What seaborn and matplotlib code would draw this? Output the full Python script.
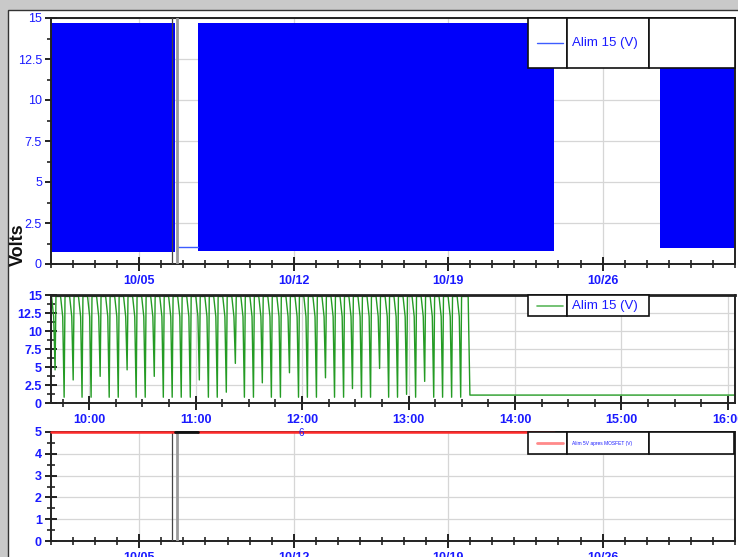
import pandas as pd
import matplotlib
matplotlib.use("Agg")
import matplotlib.pyplot as plt
import matplotlib.dates as mdates
from matplotlib.patches import Rectangle
from matplotlib.lines import Line2D
import seaborn as sns

# Panneau 1 : Alim 15 (V) sur le mois (blocs d'oscillation rapide)
month_start = "2012-10-01 00:00"
month_end = "2012-11-01 00:00"
blue_start = ["2012-10-01 00:00", "2012-10-07 16:00", "2012-10-28 14:10"]
blue_end = ["2012-10-06 15:20", "2012-10-23 19:40", "2012-11-01 00:00"]
blue_low = [0.75, 0.8, 1.0]
blue_high = [14.7, 14.7, 11.95]
idle_dates = ["2012-10-06 17:00", "2012-10-07 16:00"]
idle_values = [1.05, 1.05]
cursor_dates = ["2012-10-06 12:00", "2012-10-06 17:00"]

# Panneau 2 : une journee, creux du signal (minutes apres 09:00)
day = "2012-10-05 09:00"
dip_minutes = [40.8, 45.9, 51.0, 56.0, 61.1, 66.2, 71.3, 76.4, 81.4, 86.5,
               91.6, 96.7, 101.8, 106.8, 111.9, 117.0, 122.1, 127.2, 132.2, 137.3,
               142.4, 147.5, 152.6, 157.6, 162.7, 167.8, 172.9, 178.0, 183.0, 188.1,
               193.2, 198.3, 203.4, 208.4, 213.5, 218.6, 223.7, 228.8, 233.8, 238.9,
               244.0, 249.1, 254.2, 259.2, 264.3, 269.4]
dip_min = [4.6, 0.8, 3.2, 0.8, 0.8, 3.7, 0.8, 0.8, 4.6, 0.8,
           0.8, 3.7, 0.8, 0.8, 0.8, 0.8, 3.2, 0.8, 0.8, 1.5,
           5.5, 0.8, 0.8, 2.8, 0.8, 0.8, 4.2, 0.8, 0.8, 0.8,
           3.5, 0.8, 0.8, 2.0, 0.8, 0.8, 4.8, 0.8, 0.8, 1.2,
           0.8, 3.0, 0.8, 0.8, 0.8, 0.8]
wave_top = 14.8
stop_minute = 274.6
rest_level = 1.1
day_xmin = 38.5
day_xmax = 424.0

# Panneau 3 : Alim 5V apres MOSFET
red_start = ["2012-10-01 00:00", "2012-10-07 16:00"]
red_end = ["2012-10-06 15:20", "2012-10-23 19:40"]
red_level = 5.0
off_dates = ["2012-10-06 15:20", "2012-10-07 16:00"]
off_values = [5.0, 5.0]

BLUE_TXT = "#1a1aff"
GRID = "#d6d6d6"

sns.set_style("white")
plt.rcParams["font.family"] = ["Liberation Sans", "DejaVu Sans"]

fig = plt.figure(figsize=(7.38, 5.57), dpi=100)
fig.patch.set_facecolor("#c9c9c9")
fig.add_artist(Rectangle((8 / 738, -0.01), 1.0, 1 - 10 / 557 + 0.01, transform=fig.transFigure,
                         facecolor="white", edgecolor="#333333", lw=1.0, zorder=-1))

AX_W = 684.0
ax1 = fig.add_axes([51 / 738, 1 - 264 / 557, AX_W / 738, 246 / 557])
ax2 = fig.add_axes([51 / 738, 1 - 403 / 557, AX_W / 738, 108 / 557])
ax3 = fig.add_axes([51 / 738, 1 - 541 / 557, AX_W / 738, 109 / 557])


def style_axes(ax, bold_y):
    ax.grid(True, which="major", color=GRID, lw=0.9)
    ax.set_axisbelow(True)
    for side in ["left", "bottom", "top", "right"]:
        ax.spines[side].set_color("#222222")
        ax.spines[side].set_linewidth(1.4)
    ax.tick_params(axis="both", which="both", bottom=True, left=True, top=False, right=False)
    ax.tick_params(axis="both", which="major", direction="inout", color="#111111",
                   width=1.3, labelcolor=BLUE_TXT, labelsize=9)
    ax.tick_params(axis="x", which="major", length=10.5, pad=2.7)
    ax.tick_params(axis="y", which="major", length=9, pad=2)
    ax.tick_params(axis="both", which="minor", direction="inout", color="#111111",
                   width=1.1, length=6)
    for lab in ax.get_xticklabels():
        lab.set_fontweight("bold")
    if bold_y:
        for lab in ax.get_yticklabels():
            lab.set_fontweight("bold")
    ax.set_xlabel("")
    ax.set_ylabel("")


def draw_box(ax, x0_px, y0, h, widths_px, color, lw, label, size):
    x = x0_px
    for w in widths_px:
        ax.add_patch(Rectangle((x / AX_W, y0), w / AX_W, h, transform=ax.transAxes,
                               facecolor="white", edgecolor="#111111", lw=1.2,
                               zorder=5, clip_on=False))
        x += w
    ax.add_line(Line2D([(x0_px + 9) / AX_W, (x0_px + 35) / AX_W], [y0 + h / 2] * 2,
                       transform=ax.transAxes, color=color, lw=lw, zorder=6))
    ax.text((x0_px + widths_px[0] + 5) / AX_W, y0 + h / 2, label, transform=ax.transAxes,
            color=BLUE_TXT, fontsize=size, va="center", ha="left", zorder=6)


def month_axis(ax):
    ax.set_xlim(pd.Timestamp(month_start), pd.Timestamp(month_end))
    ax.xaxis.set_major_locator(mdates.DayLocator(bymonthday=[5, 12, 19, 26]))
    ax.xaxis.set_major_formatter(mdates.DateFormatter("%m/%d"))
    ax.xaxis.set_minor_locator(mdates.DayLocator())


# --- panneau 1 ---
for s, e, lo, hi in zip(blue_start, blue_end, blue_low, blue_high):
    ax1.fill_between(pd.to_datetime([s, e]), lo, hi, color="#0000fa", lw=0, zorder=2)
idle = pd.DataFrame({"t": pd.to_datetime(idle_dates), "v": idle_values})
sns.lineplot(data=idle, x="t", y="v", ax=ax1, color="#3d5cff", lw=1.0, estimator=None)
ax1.axvline(pd.Timestamp(cursor_dates[0]), color="#444444", lw=0.9, zorder=3)
ax1.axvline(pd.Timestamp(cursor_dates[1]), color="#9a9a9a", lw=2.0, zorder=3)
month_axis(ax1)
ax1.set_ylim(0, 15)
ax1.set_yticks([0, 2.5, 5, 7.5, 10, 12.5, 15])
ax1.set_yticklabels(["0", "2.5", "5", "7.5", "10", "12.5", "15"])
ax1.set_yticks([1.25, 3.75, 6.25, 8.75, 11.25, 13.75], minor=True)
style_axes(ax1, bold_y=False)
draw_box(ax1, 477, (264 - 68) / 246, 50 / 246, [39, 82, 86], "#3d5cff", 1.0, "Alim 15 (V)", 9.5)

# --- panneau 2 ---
t0 = pd.Timestamp(day)
wave_t = [day_xmin]
wave_v = [wave_top]
for m, lo in zip(dip_minutes, dip_min):
    wave_t += [m - 2.0, m - 0.8, m, m + 0.5]
    wave_v += [wave_top, 12.0, lo, wave_top]
wave_t += [stop_minute - 1.0, stop_minute, day_xmax]
wave_v += [wave_top, rest_level, rest_level]
wave = pd.DataFrame({"t": t0 + pd.to_timedelta(wave_t, unit="m"), "v": wave_v})
sns.lineplot(data=wave, x="t", y="v", ax=ax2, color="#249b24", lw=1.0,
             estimator=None, sort=False)
ax2.set_xlim(t0 + pd.Timedelta(minutes=day_xmin), t0 + pd.Timedelta(minutes=day_xmax))
ax2.xaxis.set_major_locator(mdates.HourLocator())
ax2.xaxis.set_major_formatter(mdates.DateFormatter("%H:%M"))
ax2.xaxis.set_minor_locator(mdates.MinuteLocator(byminute=[15, 30, 45]))
ax2.set_ylim(0, 15)
ax2.set_yticks([0, 2.5, 5, 7.5, 10, 12.5, 15])
ax2.set_yticklabels(["0", "2.5", "5", "7.5", "10", "12.5", "15"])
ax2.set_yticks([1.25, 3.75, 6.25, 8.75, 11.25, 13.75], minor=True)
style_axes(ax2, bold_y=True)
ax2.spines["top"].set_linewidth(2.0)
draw_box(ax2, 477, (403 - 316) / 108, 21 / 108, [39, 82], "#5cb85c", 1.2, "Alim 15 (V)", 9.5)

# --- panneau 3 ---
for s, e in zip(red_start, red_end):
    seg = pd.DataFrame({"t": pd.to_datetime([s, e]), "v": [red_level, red_level]})
    sns.lineplot(data=seg, x="t", y="v", ax=ax3, color="#ff2a2a", lw=1.8, estimator=None)
off = pd.DataFrame({"t": pd.to_datetime(off_dates), "v": off_values})
sns.lineplot(data=off, x="t", y="v", ax=ax3, color="#111111", lw=2.0, estimator=None)
for ln in ax3.lines:
    ln.set_clip_on(False)
    ln.set_zorder(4)
ax3.axvline(pd.Timestamp(cursor_dates[0]), color="#444444", lw=0.9, zorder=3)
ax3.axvline(pd.Timestamp(cursor_dates[1]), color="#9a9a9a", lw=2.0, zorder=3)
month_axis(ax3)
ax3.set_ylim(0, 5)
ax3.set_yticks([0, 1, 2, 3, 4, 5])
ax3.set_yticks([0.5, 1.5, 2.5, 3.5, 4.5], minor=True)
style_axes(ax3, bold_y=True)
draw_box(ax3, 477, (541 - 454) / 109, 22 / 109, [39, 82, 85], "#ff8a8a", 2.0,
         "Alim 5V apres MOSFET (V)", 3.5)

fig.text(18.5 / 738, 1 - 245 / 557, "Volts", rotation=90, fontsize=13, fontweight="bold",
         color="#111111", ha="center", va="center")
fig.text(301 / 738, 1 - 433 / 557, "6", fontsize=7, color=BLUE_TXT, ha="center", va="center")

fig.savefig("out.png", dpi=100, facecolor=fig.get_facecolor())
